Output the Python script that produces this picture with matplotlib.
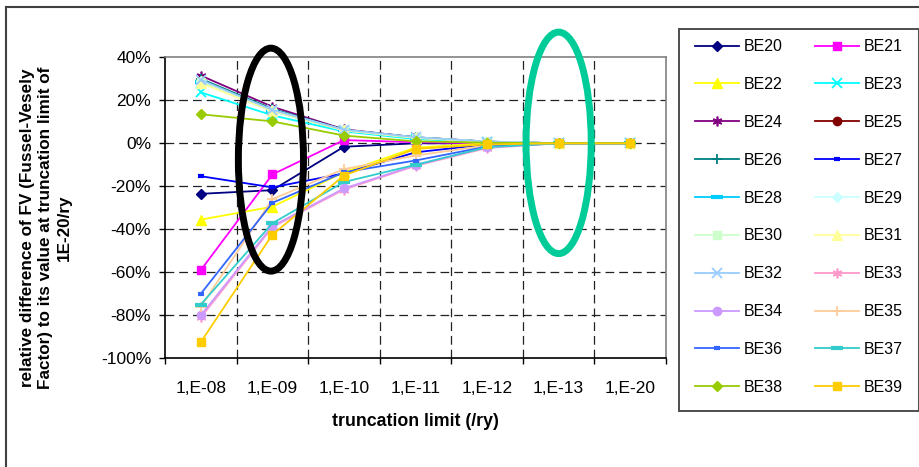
import matplotlib
matplotlib.use('Agg')
import matplotlib.pyplot as plt
from matplotlib.patches import Ellipse, Rectangle
from matplotlib.lines import Line2D

plt.rcParams['font.family'] = ['Liberation Sans', 'DejaVu Sans']

# категории по оси X
categories = ['1,E-08', '1,E-09', '1,E-10', '1,E-11', '1,E-12', '1,E-13', '1,E-20']

# значения в процентах
BE20 = [-23.5, -21.8, -1.6, 0.0, 0.0, 0, 0]
BE21 = [-59.0, -14.5, 1.5, 0.5, 0.0, 0, 0]
BE22 = [-35.5, -29.5, -13.5, -2.0, 0.0, 0, 0]
BE23 = [23.7, 13.0, 5.5, 2.0, 0.5, 0, 0]
BE24 = [31.5, 17.0, 6.5, 2.8, 0.8, 0, 0]
BE25 = [29.5, 15.5, 6.2, 2.7, 0.7, 0, 0]
BE26 = [30.0, 16.0, 6.3, 2.8, 0.8, 0, 0]
BE27 = [-15.3, -20.5, -14.0, -4.2, -0.5, 0, 0]
BE28 = [28.5, 15.0, 6.0, 2.6, 0.7, 0, 0]
BE29 = [29.0, 15.5, 6.2, 2.7, 0.8, 0, 0]
BE30 = [28.5, 15.2, 6.0, 2.6, 0.7, 0, 0]
BE31 = [28.0, 15.0, 6.0, 2.5, 0.7, 0, 0]
BE32 = [29.5, 15.5, 6.3, 2.8, 0.8, 0, 0]
BE33 = [-81.0, -39.0, -21.5, -10.5, -2.2, 0, 0]
BE34 = [-80.0, -38.5, -21.0, -10.2, -1.8, 0, 0]
BE35 = [-76.0, -26.0, -12.0, -5.7, -1.0, 0, 0]
BE36 = [-70.0, -27.7, -13.5, -8.0, -1.5, 0, 0]
BE37 = [-75.0, -37.2, -18.0, -10.0, -1.8, 0, 0]
BE38 = [13.5, 10.2, 3.6, 0.9, 0.3, 0, 0]
BE39 = [-92.5, -42.5, -15.0, -2.6, -0.5, 0, 0]

series = [
    ('BE20', BE20, '#000080', 'D', 5.5, 1),
    ('BE21', BE21, '#FF00FF', 's', 5.5, 1),
    ('BE22', BE22, '#FFFF00', '^', 6.5, 1),
    ('BE23', BE23, '#00FFFF', 'x', 6.5, 1.3),
    ('BE24', BE24, '#800080', (6, 2, 0), 7, 1.2),
    ('BE25', BE25, '#800000', 'o', 6, 1),
    ('BE26', BE26, '#008080', '+', 7, 1.3),
    ('BE27', BE27, '#0000FF', '_', 5, 3),
    ('BE28', BE28, '#00CCFF', '_', 8, 3),
    ('BE29', BE29, '#CCFFFF', 'D', 5.5, 1),
    ('BE30', BE30, '#CCFFCC', 's', 5.5, 1),
    ('BE31', BE31, '#FFFF99', '^', 6.5, 1),
    ('BE32', BE32, '#99CCFF', 'x', 6.5, 1.3),
    ('BE33', BE33, '#FF99CC', (6, 2, 0), 7, 1.2),
    ('BE34', BE34, '#CC99FF', 'o', 6, 1),
    ('BE35', BE35, '#FFCC99', '+', 7, 1.3),
    ('BE36', BE36, '#3366FF', '_', 5, 3),
    ('BE37', BE37, '#33CCCC', '_', 8, 3),
    ('BE38', BE38, '#99CC00', 'D', 5.5, 1),
    ('BE39', BE39, '#FFCC00', 's', 5.5, 1),
]

W, H = 920, 467
fig = plt.figure(figsize=(9.2, 4.67), dpi=100)
ax = fig.add_axes([165 / W, (H - 358.3) / H, 501 / W, 301 / H])

x = list(range(len(categories)))
handles = []
for name, vals, col, mk, ms, mew in series:
    h, = ax.plot(x, vals, color=col, lw=1.3, marker=mk, ms=ms,
                 mfc=col, mec=col, mew=mew, label=name, zorder=3)
    handles.append(h)

ax.set_xlim(-0.5, 6.5)
ax.set_ylim(-100, 40)
ax.set_yticks(range(-100, 41, 20))
ax.set_yticklabels([f'{v}%' for v in range(-100, 41, 20)])
ax.set_xticks(x)
ax.set_xticklabels(categories)
ax.set_xticks([i + 0.5 for i in range(-1, 7)], minor=True)

ax.tick_params(axis='x', which='major', length=0, pad=16, labelsize=12.5)
ax.tick_params(axis='x', which='minor', direction='out', length=4.5, width=1)
ax.tick_params(axis='y', direction='out', length=4, width=1, pad=6, labelsize=12.5)

# пунктирная сетка
for v in range(-80, 40, 20):
    ax.axhline(v, color='#222222', lw=0.9, ls=(0, (7, 4)), zorder=1)
for b in range(6):
    ax.axvline(b + 0.5, color='#222222', lw=0.9, ls=(0, (7, 4)), zorder=1)

for s in ['top', 'right']:
    ax.spines[s].set_color('#808080')
    ax.spines[s].set_linewidth(1.2)
for s in ['left', 'bottom']:
    ax.spines[s].set_color('black')
    ax.spines[s].set_linewidth(1.2)

# эллипсы
ax.add_patch(Ellipse((0.98, -7.6), 0.91, 103.7, fill=False, ec='black',
                     lw=5, clip_on=False, zorder=10))
ax.add_patch(Ellipse((5.0, 0.2), 0.91, 103.0, fill=False, ec='#00CC99',
                     lw=5, clip_on=False, zorder=10))

fig.text(46 / W, 1 - 228 / H,
         'relative difference of FV (Fussel-Vesely\nFactor) to its value at truncation limit of\n1E-20/ry',
         rotation=90, ha='center', va='center', multialignment='center',
         fontsize=12.3, fontweight='bold', linespacing=1.25)
fig.text(415.5 / W, 1 - 421.7 / H, 'truncation limit (/ry)', ha='center',
         va='center', fontsize=12.8, fontweight='bold')

# рамка легенды
fig.add_artist(Rectangle((679 / W, 1 - 411 / H), 240 / W, 382 / H,
                         transform=fig.transFigure, fill=False,
                         ec='#404040', lw=1.3))
# порядок как в Excel: по строкам
leg_handles = handles[0::2] + handles[1::2]
fig.legend(handles=leg_handles, ncol=2, loc='center',
           bbox_to_anchor=(799 / W, 1 - 217 / H), frameon=False,
           fontsize=11.5, labelspacing=1.43, handlelength=2.75,
           handletextpad=0.3, columnspacing=2.0)

# рамка диаграммы
fig.add_artist(Line2D([6 / W, 6 / W], [0, 1 - 7 / H], transform=fig.transFigure,
                      color='#404040', lw=1.5))
fig.add_artist(Line2D([6 / W, 1], [1 - 7 / H, 1 - 7 / H], transform=fig.transFigure,
                      color='#404040', lw=1.5))

fig.savefig('out.png', dpi=100)
